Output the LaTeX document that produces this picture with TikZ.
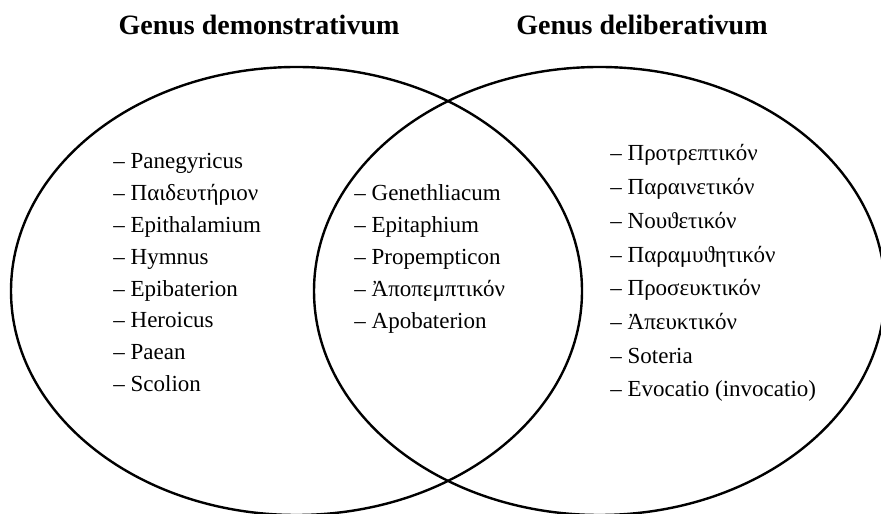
\documentclass[tikz,border=0pt]{standalone}
\usepackage{fontspec}
\setmainfont{Liberation Serif}
\begin{document}
\begin{tikzpicture}[x=0.5pt, y=0.5pt,
  setline/.style={line width=1.2pt},
  item/.style={anchor=base west, inner sep=0pt, font=\fontsize{11.5}{14}\selectfont},
  head/.style={anchor=base, inner sep=0pt, font=\fontsize{14}{17}\selectfont\bfseries}]
  \useasboundingbox (0,0) rectangle (881,513);
  \clip (0,0) rectangle (881,513);
  % Two overlapping sets
  \draw[setline] (296.5,222) ellipse [x radius=285.5, y radius=224];
  \draw[setline] (599.5,222) ellipse [x radius=285.5, y radius=224];
  % Headings
  \node[head] (demhead) at (259,478.5) {Genus demonstrativum};
  \node[head] (delhead) at (642,478.5) {Genus deliberativum};
  % Left set only
  \foreach \t [count=\i from 0] in {Panegyricus, Παιδευτήριον, Epithalamium,
      Hymnus, Epibaterion, Heroicus, Paean, Scolion}
    \node[item] (dem-\i) at (113,{344-31.8*\i}) {– \t};
  % Overlap
  \foreach \t [count=\i from 0] in {Genethliacum, Epitaphium, Propempticon,
      Ἀποπεμπτικόν, Apobaterion}
    \node[item] (mid-\i) at (354,{312-31.8*\i}) {– \t};
  % Right set only
  \foreach \t [count=\i from 0] in {Προτρεπτικόν, Παραινετικόν, Νουϑετικόν,
      Παραμυϑητικόν, Προσευκτικόν, Ἀπευκτικόν, Soteria, Evocatio (invocatio)}
    \node[item] (del-\i) at (610,{352-33.7*\i}) {– \t};
\end{tikzpicture}
\end{document}
